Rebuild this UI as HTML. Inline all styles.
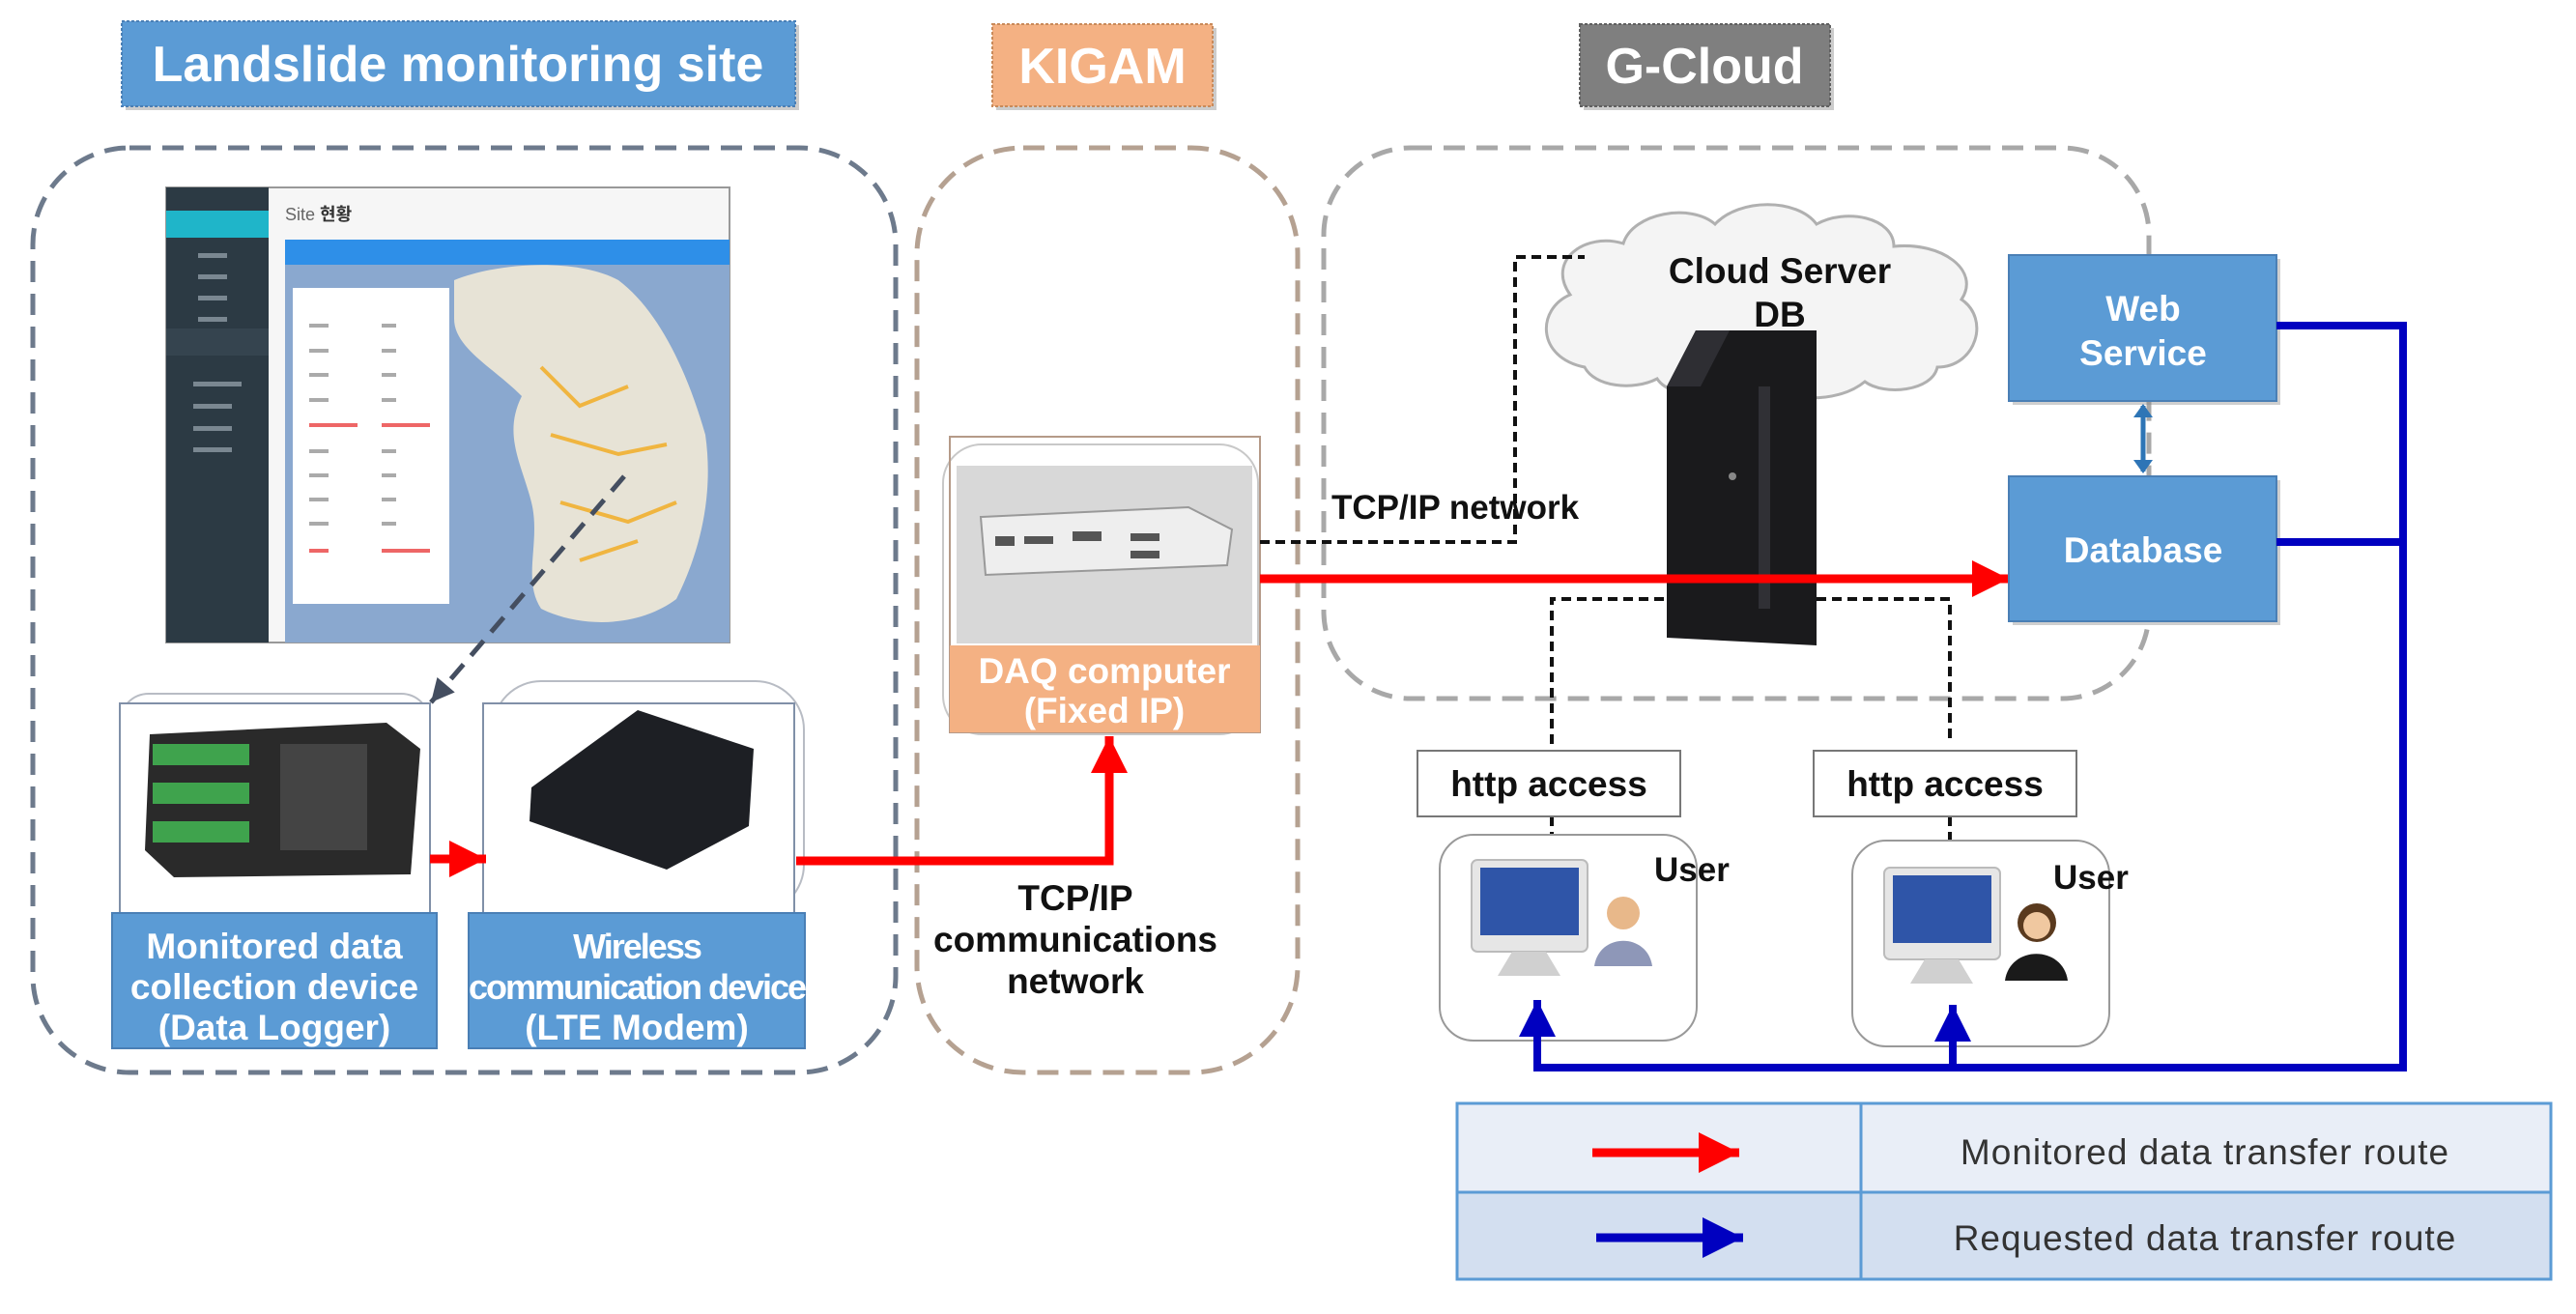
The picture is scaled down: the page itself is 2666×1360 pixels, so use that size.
<!DOCTYPE html>
<html><head><meta charset="utf-8"><style>
html,body{margin:0;padding:0;background:#fff;}
svg{display:block;}
text{font-family:"Liberation Sans","Noto Sans CJK KR",sans-serif;}
</style></head><body>
<svg width="2666" height="1360" viewBox="0 0 2666 1360" xmlns="http://www.w3.org/2000/svg">
<defs>
<marker id="ar" viewBox="0 0 10 10" markerWidth="40" markerHeight="38" refX="10" refY="5" orient="auto" markerUnits="userSpaceOnUse"><path d="M0,0 L10,5 L0,10 z" fill="#f00"/></marker>
<marker id="ab" viewBox="0 0 10 10" markerWidth="40" markerHeight="38" refX="10" refY="5" orient="auto" markerUnits="userSpaceOnUse"><path d="M0,0 L10,5 L0,10 z" fill="#0000c0"/></marker>
<marker id="arL" viewBox="0 0 10 10" markerWidth="50" markerHeight="42" refX="10" refY="5" orient="auto" markerUnits="userSpaceOnUse"><path d="M0,0 L10,5 L0,10 z" fill="#f00"/></marker>
<marker id="abL" viewBox="0 0 10 10" markerWidth="50" markerHeight="42" refX="10" refY="5" orient="auto" markerUnits="userSpaceOnUse"><path d="M0,0 L10,5 L0,10 z" fill="#0000c0"/></marker>
<marker id="ak" viewBox="0 0 10 10" markerWidth="26" markerHeight="24" refX="10" refY="5" orient="auto" markerUnits="userSpaceOnUse"><path d="M0,0 L10,5 L0,10 z" fill="#444e60"/></marker>
</defs>

<!-- Titles -->
<rect x="130" y="26" width="697" height="88" fill="#808080" opacity="0.4"/>
<rect x="126" y="22" width="697" height="88" fill="#5b9bd5" stroke="#4a7fb5" stroke-width="2" stroke-dasharray="3 2"/>
<text x="474" y="84" font-size="52" font-weight="bold" fill="#fff" text-anchor="middle">Landslide  monitoring  site</text>
<rect x="1031" y="29" width="228" height="85" fill="#808080" opacity="0.4"/>
<rect x="1027" y="25" width="228" height="85" fill="#f4b183" stroke="#c98a5a" stroke-width="2" stroke-dasharray="3 2"/>
<text x="1141" y="86" font-size="52" font-weight="bold" fill="#fff" text-anchor="middle">KIGAM</text>
<rect x="1639" y="29" width="259" height="85" fill="#808080" opacity="0.4"/>
<rect x="1635" y="25" width="259" height="85" fill="#7f7f7f" stroke="#606060" stroke-width="2" stroke-dasharray="3 2"/>
<text x="1764" y="86" font-size="52" font-weight="bold" fill="#fff" text-anchor="middle">G-Cloud</text>

<!-- Dashed groups -->
<rect x="34" y="153" width="893" height="957" rx="100" fill="none" stroke="#6d7a8c" stroke-width="5" stroke-dasharray="22 12"/>
<rect x="949" y="153" width="394" height="957" rx="110" fill="none" stroke="#b5a191" stroke-width="5" stroke-dasharray="22 12"/>
<rect x="1370" y="153" width="854" height="570" rx="90" fill="none" stroke="#a8a8a8" stroke-width="5" stroke-dasharray="22 12"/>

<!-- Screenshot -->
<rect x="172" y="194" width="583" height="471" fill="#f6f6f6" stroke="#999" stroke-width="2"/>
<rect x="172" y="194" width="106" height="471" fill="#2c3a44"/>
<rect x="172" y="218" width="106" height="28" fill="#1fb5c9"/>
<rect x="172" y="340" width="106" height="28" fill="#35444f"/>
<g fill="#7a8791"><rect x="205" y="262" width="30" height="5"/><rect x="205" y="284" width="30" height="5"/><rect x="205" y="306" width="30" height="5"/><rect x="205" y="328" width="30" height="5"/><rect x="200" y="395" width="50" height="5"/><rect x="200" y="418" width="40" height="5"/><rect x="200" y="441" width="40" height="5"/><rect x="200" y="463" width="40" height="5"/></g>
<text x="295" y="228" font-size="18" fill="#666">Site <tspan font-weight="bold" fill="#333">현황</tspan></text>
<rect x="295" y="248" width="460" height="26" fill="#2e8fe8"/>
<rect x="295" y="274" width="460" height="391" fill="#8aa8cf"/>
<path d="M470,290 C520,270 600,268 640,290 C680,320 710,380 730,450 C740,520 720,580 700,620 C660,650 600,650 560,630 C540,600 560,560 550,520 C540,480 520,450 540,410 C510,380 470,360 470,330 Z" fill="#e7e3d6"/>
<path d="M560,380 L600,420 L650,400 M570,450 L640,470 L690,460 M580,520 L650,540 L700,520 M600,580 L660,560" stroke="#f0b540" stroke-width="4" fill="none"/>
<rect x="303" y="298" width="162" height="327" fill="#fff"/>
<g fill="#aaa"><rect x="320" y="335" width="20" height="4"/><rect x="395" y="335" width="15" height="4"/><rect x="320" y="361" width="20" height="4"/><rect x="395" y="361" width="15" height="4"/><rect x="320" y="386" width="20" height="4"/><rect x="395" y="386" width="15" height="4"/><rect x="320" y="412" width="20" height="4"/><rect x="395" y="412" width="15" height="4"/><rect x="320" y="465" width="20" height="4"/><rect x="395" y="465" width="15" height="4"/><rect x="320" y="490" width="20" height="4"/><rect x="395" y="490" width="15" height="4"/><rect x="320" y="515" width="20" height="4"/><rect x="395" y="515" width="15" height="4"/><rect x="320" y="540" width="20" height="4"/><rect x="395" y="540" width="15" height="4"/></g>
<g fill="#e66"><rect x="320" y="438" width="50" height="4"/><rect x="395" y="438" width="50" height="4"/><rect x="320" y="568" width="20" height="4"/><rect x="395" y="568" width="50" height="4"/></g>

<!-- dashed arrow from screenshot -->
<line x1="646" y1="493" x2="446" y2="727" stroke="#444e60" stroke-width="5" stroke-dasharray="20 12" marker-end="url(#ak)"/>

<!-- Data logger -->
<rect x="124" y="718" width="321" height="227" rx="30" fill="#fff" stroke="#b8bcc4" stroke-width="2"/>
<rect x="124" y="728" width="321" height="217" fill="#fff" stroke="#8090a8" stroke-width="2"/>
<path d="M155,760 L400,748 L435,775 L425,905 L180,908 L150,880 Z" fill="#2a2a2a"/>
<g fill="#3fa34d"><rect x="158" y="770" width="100" height="22"/><rect x="158" y="810" width="100" height="22"/><rect x="158" y="850" width="100" height="22"/></g>
<rect x="290" y="770" width="90" height="110" fill="#444"/>
<rect x="116" y="945" width="336" height="140" fill="#5b9bd5" stroke="#4a7fb5" stroke-width="2"/>
<text x="284" y="992" font-size="37" font-weight="bold" fill="#fff" text-anchor="middle">Monitored  data</text>
<text x="284" y="1034" font-size="37" font-weight="bold" fill="#fff" text-anchor="middle">collection  device</text>
<text x="284" y="1076" font-size="37" font-weight="bold" fill="#fff" text-anchor="middle">(Data  Logger)</text>

<!-- LTE modem -->
<rect x="510" y="705" width="322" height="240" rx="50" fill="#fff" stroke="#b8bcc4" stroke-width="2"/>
<rect x="500" y="728" width="322" height="217" fill="#fff" stroke="#8090a8" stroke-width="2"/>
<path d="M550,815 L660,735 L780,775 L775,855 L690,900 L548,850 Z" fill="#1d1f24"/>
<rect x="485" y="945" width="348" height="140" fill="#5b9bd5" stroke="#4a7fb5" stroke-width="2"/>
<text x="659" y="992" font-size="36" font-weight="bold" fill="#fff" text-anchor="middle" letter-spacing="-2">Wireless</text>
<text x="659" y="1034" font-size="36" font-weight="bold" fill="#fff" text-anchor="middle" letter-spacing="-2">communication device</text>
<text x="659" y="1076" font-size="37" font-weight="bold" fill="#fff" text-anchor="middle">(LTE Modem)</text>

<!-- red logger -> modem -->
<line x1="445" y1="889" x2="503" y2="889" stroke="#f00" stroke-width="9" marker-end="url(#ar)"/>
<!-- red modem -> DAQ -->
<polyline points="824,891 1148,891 1148,762" fill="none" stroke="#f00" stroke-width="9" marker-end="url(#ar)"/>

<!-- DAQ -->
<rect x="976" y="460" width="326" height="300" rx="40" fill="#fff" stroke="#c8c8c8" stroke-width="2"/>
<rect x="983" y="452" width="321" height="306" fill="none" stroke="#b59a88" stroke-width="2"/>
<rect x="990" y="482" width="306" height="184" fill="#d8d8d8"/>
<path d="M1015,535 L1230,525 L1275,548 L1270,585 L1020,595 Z" fill="#eee" stroke="#999" stroke-width="2"/>
<g fill="#555"><rect x="1030" y="555" width="20" height="10"/><rect x="1060" y="555" width="30" height="8"/><rect x="1110" y="550" width="30" height="10"/><rect x="1170" y="552" width="30" height="8"/><rect x="1170" y="570" width="30" height="8"/></g>
<rect x="983" y="668" width="321" height="90" fill="#f4b183"/>
<text x="1143" y="707" font-size="37" font-weight="bold" fill="#fff" text-anchor="middle">DAQ computer</text>
<text x="1143" y="748" font-size="37" font-weight="bold" fill="#fff" text-anchor="middle">(Fixed  IP)</text>

<text x="1113" y="942" font-size="37" font-weight="bold" fill="#111" text-anchor="middle">TCP/IP</text>
<text x="1113" y="985" font-size="37" font-weight="bold" fill="#111" text-anchor="middle">communications</text>
<text x="1113" y="1028" font-size="37" font-weight="bold" fill="#111" text-anchor="middle">network</text>

<!-- Cloud -->
<path d="M1640,380 C1590,370 1590,320 1625,305 C1600,270 1640,240 1680,252 C1690,220 1750,210 1775,232 C1800,205 1860,205 1880,232 C1910,215 1960,225 1960,255 C2010,250 2050,280 2030,310 C2060,330 2045,380 2005,380 C2000,405 1950,410 1930,395 C1900,420 1840,415 1820,395 C1790,415 1730,415 1715,392 C1690,405 1650,400 1640,380 Z" fill="#f4f4f4" stroke="#b0b0b0" stroke-width="3"/>
<text x="1842" y="293" font-size="37" font-weight="bold" fill="#111" text-anchor="middle">Cloud  Server</text>
<text x="1842" y="338" font-size="37" font-weight="bold" fill="#111" text-anchor="middle">DB</text>

<!-- black dashed TCP/IP network -->
<polyline points="1304,561 1568,561 1568,266 1640,266" fill="none" stroke="#111" stroke-width="4" stroke-dasharray="10 6"/>
<text x="1378" y="537" font-size="35" font-weight="bold" fill="#111">TCP/IP  network</text>

<!-- server tower -->
<path d="M1725,400 L1755,342 L1880,342 L1880,668 L1725,660 Z" fill="#1a1a1c"/>
<path d="M1725,400 L1755,342 L1790,342 L1760,400 Z" fill="#2e2e33"/>
<rect x="1820" y="400" width="12" height="230" fill="#303035"/>
<circle cx="1793" cy="493" r="4" fill="#888"/>

<!-- red main -->
<line x1="1304" y1="599" x2="2079" y2="599" stroke="#f00" stroke-width="9" marker-end="url(#ar)"/>

<!-- dashed to users -->
<polyline points="1606,770 1606,620 1725,620" fill="none" stroke="#111" stroke-width="4" stroke-dasharray="10 6"/>
<polyline points="1880,620 2018,620 2018,770" fill="none" stroke="#111" stroke-width="4" stroke-dasharray="10 6"/>
<line x1="1606" y1="845" x2="1606" y2="870" stroke="#111" stroke-width="4" stroke-dasharray="10 6"/>
<line x1="2018" y1="845" x2="2018" y2="875" stroke="#111" stroke-width="4" stroke-dasharray="10 6"/>

<!-- Web service / database -->
<rect x="2083" y="268" width="277" height="151" fill="#888" opacity="0.4"/>
<rect x="2079" y="264" width="277" height="151" fill="#5b9bd5" stroke="#4a7fb5" stroke-width="2"/>
<text x="2218" y="332" font-size="37" font-weight="bold" fill="#fff" text-anchor="middle">Web</text>
<text x="2218" y="378" font-size="37" font-weight="bold" fill="#fff" text-anchor="middle">Service</text>
<rect x="2083" y="497" width="277" height="150" fill="#888" opacity="0.4"/>
<rect x="2079" y="493" width="277" height="150" fill="#5b9bd5" stroke="#4a7fb5" stroke-width="2"/>
<text x="2218" y="582" font-size="37" font-weight="bold" fill="#fff" text-anchor="middle">Database</text>
<line x1="2218" y1="420" x2="2218" y2="488" stroke="#2e75b6" stroke-width="5"/>
<path d="M2208,432 L2218,418 L2228,432 Z M2208,476 L2218,490 L2228,476 Z" fill="#2e75b6"/>

<!-- http access -->
<rect x="1467" y="777" width="272" height="68" fill="#fff" stroke="#777" stroke-width="2"/>
<text x="1603" y="824" font-size="37" font-weight="bold" fill="#111" text-anchor="middle">http access</text>
<rect x="1877" y="777" width="272" height="68" fill="#fff" stroke="#777" stroke-width="2"/>
<text x="2013" y="824" font-size="37" font-weight="bold" fill="#111" text-anchor="middle">http access</text>

<!-- users -->
<rect x="1490" y="864" width="266" height="213" rx="35" fill="#fff" stroke="#999" stroke-width="2"/>
<rect x="1917" y="870" width="266" height="213" rx="35" fill="#fff" stroke="#999" stroke-width="2"/>
<g>
<rect x="1523" y="890" width="120" height="95" rx="6" fill="#e6e6e6" stroke="#bbb" stroke-width="2"/>
<rect x="1532" y="898" width="102" height="70" fill="#2f55a8"/>
<path d="M1565,985 L1600,985 L1615,1010 L1550,1010 Z" fill="#d0d0d0"/>
<circle cx="1680" cy="945" r="17" fill="#e8b88a"/>
<path d="M1650,1000 C1655,965 1705,965 1710,1000 Z" fill="#8e97b8"/>
<text x="1712" y="912" font-size="35" font-weight="bold" fill="#111">User</text>
</g>
<g>
<rect x="1950" y="898" width="120" height="95" rx="6" fill="#e6e6e6" stroke="#bbb" stroke-width="2"/>
<rect x="1959" y="906" width="102" height="70" fill="#2f55a8"/>
<path d="M1992,993 L2027,993 L2042,1018 L1977,1018 Z" fill="#d0d0d0"/>
<circle cx="2108" cy="955" r="20" fill="#5a3a1e"/>
<circle cx="2108" cy="958" r="14" fill="#f0c8a0"/>
<path d="M2075,1015 C2080,978 2135,978 2140,1015 Z" fill="#1a1a1a"/>
<text x="2125" y="920" font-size="35" font-weight="bold" fill="#111">User</text>
</g>

<!-- blue routes -->
<polyline points="2356,337 2487,337 2487,1105 1591,1105 1591,1035" fill="none" stroke="#0000c0" stroke-width="8" marker-end="url(#ab)"/>
<polyline points="2356,561 2487,561" fill="none" stroke="#0000c0" stroke-width="8"/>
<polyline points="2021,1105 2021,1040" fill="none" stroke="#0000c0" stroke-width="8" marker-end="url(#ab)"/>

<!-- Legend -->
<rect x="1508" y="1142" width="1132" height="92" fill="#e9eef7"/>
<rect x="1508" y="1234" width="1132" height="90" fill="#d3dff0"/>
<rect x="1508" y="1142" width="1132" height="182" fill="none" stroke="#5b9bd5" stroke-width="3"/>
<line x1="1508" y1="1234" x2="2640" y2="1234" stroke="#5b9bd5" stroke-width="3"/>
<line x1="1926" y1="1142" x2="1926" y2="1324" stroke="#5b9bd5" stroke-width="3"/>
<line x1="1648" y1="1193" x2="1800" y2="1193" stroke="#f00" stroke-width="9" marker-end="url(#arL)"/>
<line x1="1652" y1="1281" x2="1804" y2="1281" stroke="#0000c0" stroke-width="9" marker-end="url(#abL)"/>
<text x="2282" y="1205" font-size="37" fill="#333" text-anchor="middle" letter-spacing="1">Monitored  data  transfer  route</text>
<text x="2282" y="1294" font-size="37" fill="#333" text-anchor="middle" letter-spacing="1">Requested  data  transfer  route</text>
</svg>
</body></html>
